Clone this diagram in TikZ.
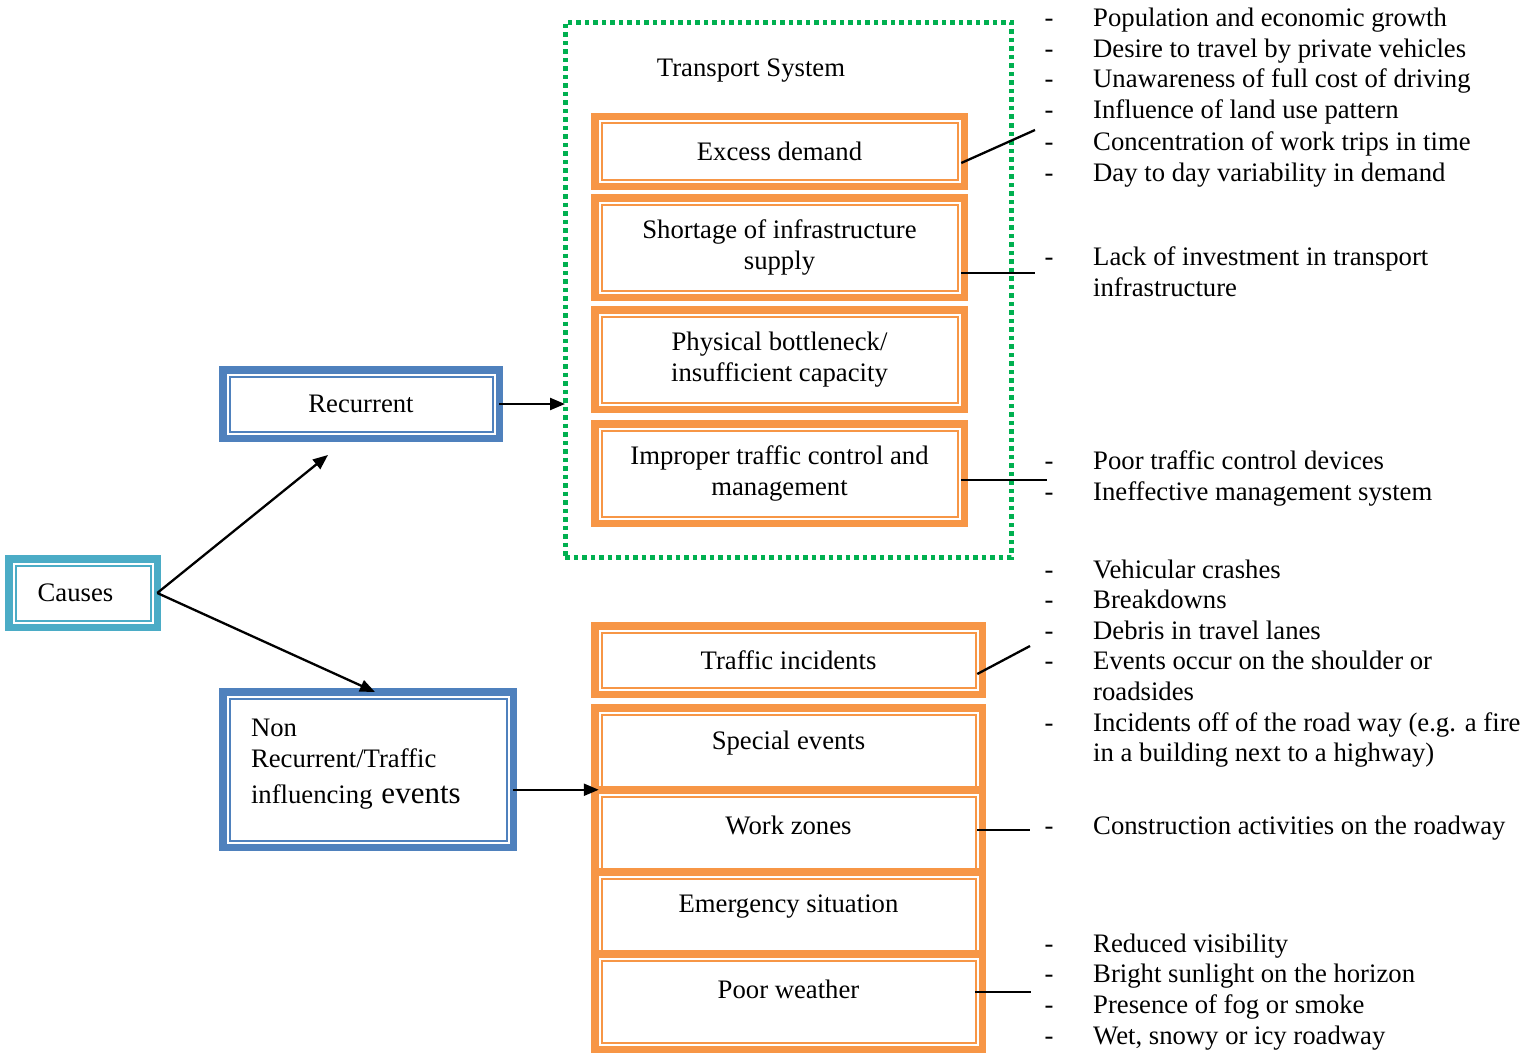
\documentclass[tikz,border=0pt]{standalone}
\usepackage{fontspec}
\setmainfont{Liberation Serif}
\usetikzlibrary{arrows.meta,calc}
\definecolor{orangeC}{HTML}{F79646}
\definecolor{blueC}{HTML}{4F81BD}
\definecolor{cyanC}{HTML}{4BACC6}
\definecolor{greenC}{HTML}{00B050}
\newcommand\myraise[2]{\raisebox{#1}[\height][\depth]{#2}}
\begin{document}
\begin{tikzpicture}[x=1pt,y=-1pt,
  every node/.style={font=\fontsize{26.7}{31}\selectfont},
  dbox/.style={draw=#1, line width=7.5pt, fill=white, inner sep=0pt, outer sep=0pt, align=center,
    path picture={\draw[draw=#1, line width=2pt] ([shift={(6.75pt,-6.75pt)}]path picture bounding box.north west) rectangle ([shift={(-6.75pt,6.75pt)}]path picture bounding box.south east);}},
  ubox/.style={dbox=orangeC, minimum width=369.5pt},
  lbox/.style={dbox=orangeC, minimum width=387.5pt},
  conn/.style={draw=black, line width=2.3pt},
  arr/.style={conn, -{Triangle[length=15pt,width=12pt]}},
  dashn/.style={anchor=base, inner sep=0pt},
  itemn/.style={anchor=base west, inner sep=0pt}
]
\useasboundingbox (0,0) rectangle (1536,1054);

% transport system frame
\node[draw=greenC, line width=5pt, dash pattern=on 4.5pt off 4pt, minimum width=446pt, minimum height=534.5pt, inner sep=0pt, outer sep=0pt] (ts) at (788,289.75) {};
\node[inner sep=0pt] (ttl) at (751,71) {Transport System};

% left boxes
\node[dbox=cyanC, minimum width=148.5pt, minimum height=68.5pt] (causes) at (83,593) {Causes\hspace*{15pt}};
\node[dbox=blueC, minimum width=276.5pt, minimum height=68.5pt] (rec) at (361,404) {Recurrent};
\node[dbox=blueC, minimum width=290.5pt, minimum height=155.5pt, text width=234pt, align=left] (nr) at (368,769.5)
  {\myraise{6pt}{\begin{tabular}{@{}l@{}}Non\\Recurrent/Traffic\\[5pt]influencing {\fontsize{31}{36}\selectfont events}\end{tabular}}};

% recurrent causes
\node[ubox, minimum height=69.5pt] (ed) at (779.5,151.5) {Excess demand};
\node[ubox, minimum height=99.5pt] (sh) at (779.5,247.5) {Shortage of infrastructure\\supply};
\node[ubox, minimum height=99.5pt] (pb) at (779.5,359.5) {Physical bottleneck/\\insufficient capacity};
\node[ubox, minimum height=99.5pt] (im) at (779.5,473.5) {Improper traffic control and\\management};

% non recurrent causes
\node[lbox, minimum height=68.5pt] (ti) at (788.5,660) {Traffic incidents};
\node[lbox, minimum height=88.5pt] (se) at (788.5,752) {\myraise{9pt}{Special events}};
\node[lbox, minimum height=88.5pt] (wz) at (788.5,834) {\myraise{9pt}{Work zones}};
\node[lbox, minimum height=88.5pt] (em) at (788.5,916) {\myraise{9pt}{Emergency situation}};
\node[lbox, minimum height=95.5pt] (pw) at (788.5,1001.5) {\myraise{12.5pt}{Poor weather}};

% arrows
\coordinate (recin) at (328,455);
\coordinate (nrin) at (375,692);
\draw[arr] (causes.east) -- (recin);
\draw[arr] (causes.east) -- (nrin);
\draw[arr] (rec.east) -- (rec.east -| ts.west);
\draw[arr] (nr.east |- wz.north) -- ([xshift=4pt]wz.north west);

% leader lines
\coordinate (e1) at (1035,130);
\coordinate (e2) at (1035,273);
\coordinate (e3) at (1047,480);
\coordinate (e4) at (1030,646);
\coordinate (e5) at (1030,830);
\coordinate (e6) at (1031,992);
\draw[conn] ($(ed.east)+(-3,11.5)$) -- (e1);
\draw[conn] ($(sh.east)+(-3,25.5)$) -- (e2);
\draw[conn] ($(im.east)+(-3,6.5)$) -- (e3);
\draw[conn] ($(ti.east)+(-5,14)$) -- (e4);
\draw[conn] ($(wz.east)+(-5,-4)$) -- (e5);
\draw[conn] ($(pw.east)+(-7,-9.5)$) -- (e6);

% lists
\node[dashn] (d1) at (1049,27) {-};   \node[itemn] (r1) at (1093,27) {Population and economic growth};
\node[dashn] (d2) at (1049,58) {-};   \node[itemn] (r2) at (1093,58) {Desire to travel by private vehicles};
\node[dashn] (d3) at (1049,88) {-};   \node[itemn] (r3) at (1093,88) {Unawareness of full cost of driving};
\node[dashn] (d4) at (1049,119) {-};  \node[itemn] (r4) at (1093,119) {Influence of land use pattern};
\node[dashn] (d5) at (1049,150) {-};  \node[itemn] (r5) at (1093,150) {Concentration of work trips in time};
\node[dashn] (d6) at (1049,181) {-};  \node[itemn] (r6) at (1093,181) {Day to day variability in demand};

\node[dashn] (d7) at (1049,265) {-};  \node[itemn] (r7) at (1093,265) {Lack of investment in transport};
\node[itemn] (r7b) at (1093,296) {infrastructure};

\node[dashn] (d8) at (1049,469) {-};  \node[itemn] (r8) at (1093,469) {Poor traffic control devices};
\node[dashn] (d9) at (1049,500) {-};  \node[itemn] (r9) at (1093,500) {Ineffective management system};

\node[dashn] (d10) at (1049,578) {-}; \node[itemn] (r10) at (1093,578) {Vehicular crashes};
\node[dashn] (d11) at (1049,608) {-}; \node[itemn] (r11) at (1093,608) {Breakdowns};
\node[dashn] (d12) at (1049,639) {-}; \node[itemn] (r12) at (1093,639) {Debris in travel lanes};
\node[dashn] (d13) at (1049,669) {-}; \node[itemn] (r13) at (1093,669) {Events occur on the shoulder or};
\node[itemn] (r13b) at (1093,700) {roadsides};
\node[dashn] (d14) at (1049,731) {-}; \node[itemn] (r14) at (1093,731) {Incidents off of the road way (e.g. a fire};
\node[itemn] (r14b) at (1093,761) {in a building next to a highway)};

\node[dashn] (d15) at (1049,834) {-}; \node[itemn] (r15) at (1093,834) {Construction activities on the roadway};

\node[dashn] (d16) at (1049,952) {-}; \node[itemn] (r16) at (1093,952) {Reduced visibility};
\node[dashn] (d17) at (1049,982) {-}; \node[itemn] (r17) at (1093,982) {Bright sunlight on the horizon};
\node[dashn] (d18) at (1049,1013) {-}; \node[itemn] (r18) at (1093,1013) {Presence of fog or smoke};
\node[dashn] (d19) at (1049,1044) {-}; \node[itemn] (r19) at (1093,1044) {Wet, snowy or icy roadway};
\end{tikzpicture}
\end{document}
